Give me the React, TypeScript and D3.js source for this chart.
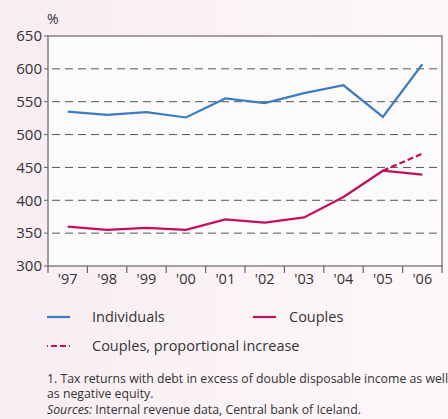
import React from "react";
import * as d3 from "d3";

const years = ["'97", "'98", "'99", "'00", "'01", "'02", "'03", "'04", "'05", "'06"];
const individuals = [535, 530, 534, 526, 555, 548, 563, 575, 527, 607];
const couples = [360, 355, 358, 355, 371, 366, 374, 405, 445, 439];
const proportionalYears = ["'05", "'06"];
const proportional = [445, 471];
const yTicks = [300, 350, 400, 450, 500, 550, 600, 650];
const gridTicks = [350, 400, 450, 500, 550, 600];

const BLUE = "#3b7cc4";
const MAGENTA = "#c2105e";
const FONT = "'Open Sans', 'Noto Sans', sans-serif";

export default function App() {
  const W = 448, H = 419;
  const left = 48, right = 442, top = 36, bottom = 266;
  const x = d3.scaleBand<string>().domain(years).range([left, right]);
  const y = d3.scaleLinear().domain([300, 650]).range([bottom, top]);
  const cx = (d: string) => (x(d) as number) + x.bandwidth() / 2;
  const line = d3.line<[string, number]>().x((d) => cx(d[0])).y((d) => y(d[1]));
  const indPath = line(years.map((yr, i) => [yr, individuals[i]] as [string, number]))!;
  const coupPath = line(years.map((yr, i) => [yr, couples[i]] as [string, number]))!;
  const propPath = line(proportionalYears.map((yr, i) => [yr, proportional[i]] as [string, number]))!;

  return (
    <div style={{ position: "fixed", left: 0, top: 0, width: W, height: H, overflow: "hidden" }}>
      <svg width={W} height={H} style={{ display: "block" }} fontFamily={FONT}>
        <defs>
          <linearGradient id="bg" x1="0" x2="1" y1="0" y2="0">
            <stop offset="0" stopColor="#f8edf2" />
            <stop offset="1" stopColor="#fdf8fa" />
          </linearGradient>
        </defs>
        <rect width={W} height={H} fill="url(#bg)" />
        <rect x={left} y={top} width={right - left} height={bottom - top} fill="#fdfafb" />
        {gridTicks.map((t) => (
          <line key={t} x1={left} x2={right} y1={y(t)} y2={y(t)} stroke="#555" strokeWidth={1} strokeDasharray="8 5" strokeDashoffset={-4} />
        ))}
        <rect x={left} y={top} width={right - left} height={bottom - top} fill="none" stroke="#666" strokeWidth={1.2} />
        {yTicks.map((t) => (
          <g key={t}>
            <line x1={left - 4} x2={left} y1={y(t)} y2={y(t)} stroke="#666" />
            <text x={42} y={y(t)} dy="0.35em" textAnchor="end" fontSize={15} fill="#333">{t}</text>
          </g>
        ))}
        {years.map((yr) => (
          <g key={yr}>
            <line x1={x(yr)} x2={x(yr)} y1={bottom} y2={bottom + 7} stroke="#666" strokeWidth={1.2} />
            <text x={cx(yr)} y={bottom + 18} textAnchor="middle" fontSize={14.5} fill="#333">{yr}</text>
          </g>
        ))}
        <line x1={right} x2={right} y1={bottom} y2={bottom + 7} stroke="#666" strokeWidth={1.2} />
        <text x={47} y={24} fontSize={14} fill="#333">%</text>
        <path d={indPath} fill="none" stroke={BLUE} strokeWidth={2.2} />
        <path d={coupPath} fill="none" stroke={MAGENTA} strokeWidth={2.2} />
        <path d={propPath} fill="none" stroke={MAGENTA} strokeWidth={2.2} strokeDasharray="6 3" />
        {/* legend */}
        <line x1={47} x2={70} y1={317} y2={317} stroke={BLUE} strokeWidth={2.2} />
        <text x={92} y={322} fontSize={14.5} fill="#333">Individuals</text>
        <line x1={253} x2={276} y1={317} y2={317} stroke={MAGENTA} strokeWidth={2.2} />
        <text x={289} y={322} fontSize={14.5} fill="#333">Couples</text>
        <line x1={47} x2={70} y1={346} y2={346} stroke={MAGENTA} strokeWidth={2.2} strokeDasharray="6 3" strokeDashoffset={5} />
        <text x={92} y={351} fontSize={14.5} fill="#333">Couples, proportional increase</text>
        {/* footnotes */}
        <text x={47} y={383} fontSize={12.3} fill="#333">1. Tax returns with debt in excess of double disposable income as well</text>
        <text x={47} y={398} fontSize={12.3} fill="#333">as negative equity.</text>
        <text x={47} y={414} fontSize={12.3} fill="#333"><tspan fontStyle="italic">Sources:</tspan> Internal revenue data, Central bank of Iceland.</text>
      </svg>
    </div>
  );
}
